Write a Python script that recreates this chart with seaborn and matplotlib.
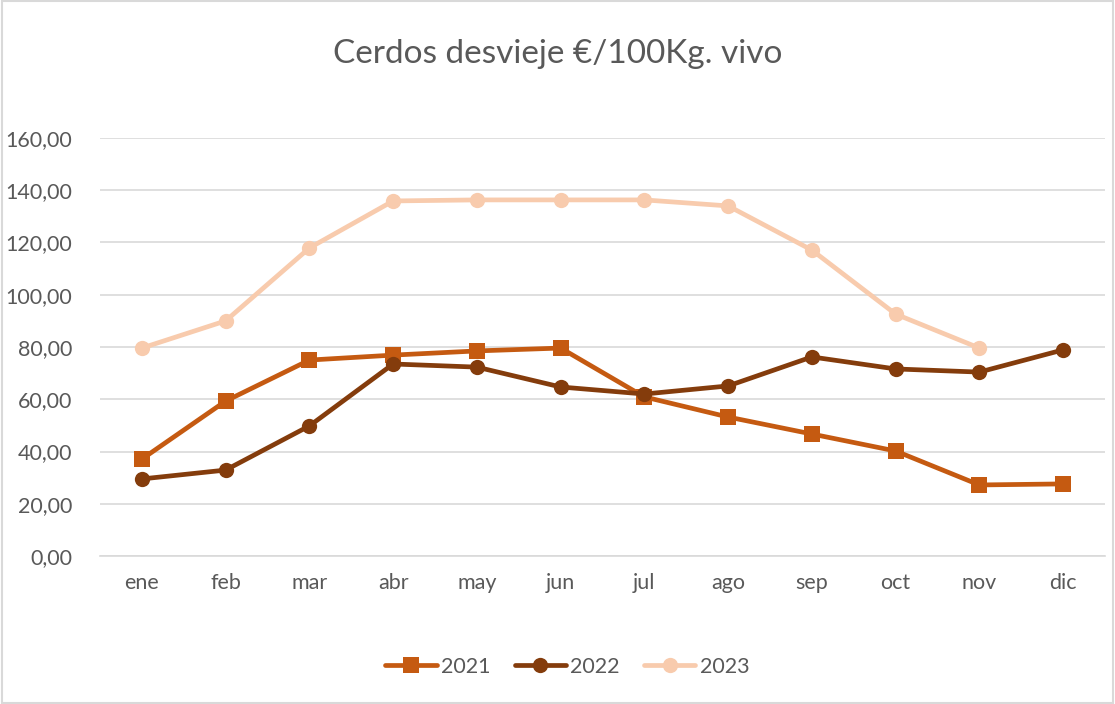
import numpy as np
import pandas as pd
import matplotlib.pyplot as plt
import seaborn as sns
from matplotlib.patches import Rectangle

# datos
meses = ["ene", "feb", "mar", "abr", "may", "jun", "jul", "ago", "sep", "oct", "nov", "dic"]
v2021 = [37.1, 59.3, 75.0, 76.9, 78.5, 79.6, 60.9, 53.2, 46.7, 40.2, 27.2, 27.6]
v2022 = [29.5, 32.9, 49.8, 73.5, 72.3, 64.7, 62.0, 65.1, 76.2, 71.6, 70.4, 78.9]
v2023 = [79.6, 90.0, 117.9, 135.9, 136.3, 136.3, 136.3, 134.0, 117.1, 92.6, 79.6, np.nan]
yticks = [0, 20, 40, 60, 80, 100, 120, 140, 160]

df = pd.DataFrame({"mes": meses * 3,
                   "pos": list(range(12)) * 3,
                   "valor": v2021 + v2022 + v2023,
                   "anio": ["2021"] * 12 + ["2022"] * 12 + ["2023"] * 12})

sns.set_style("white")
plt.rcParams['font.family'] = ['Lato', 'DejaVu Sans']

colores = {"2021": "#C55A11", "2022": "#843C0C", "2023": "#F8CBAD"}
marcas = {"2021": "s", "2022": "o", "2023": "o"}

fig = plt.figure(figsize=(11.15, 7.04), dpi=100)
ax = fig.add_axes([0.0897, 0.2102, 0.9013, 0.5938])

for anio in ["2021", "2022", "2023"]:
    d = df[df["anio"] == anio]
    sns.lineplot(data=d, x="pos", y="valor", ax=ax, color=colores[anio], marker=marcas[anio],
                 markersize=11, markeredgewidth=0, linewidth=3.4, label=anio, estimator=None)

ax.set_xlim(-0.5, 11.5)
ax.set_ylim(0, 160)
ax.set_yticks(yticks)
ax.set_yticklabels([f"{t:.2f}".replace(".", ",") for t in yticks], fontsize=15.5, color="#595959")
ax.set_xticks(range(12))
ax.set_xticklabels(meses, fontsize=15.5, color="#595959")
ax.tick_params(axis="x", length=0, pad=12)
ax.tick_params(axis="y", length=0, pad=20)
ax.grid(axis="y", color="#D9D9D9", linewidth=1.2)
ax.set_axisbelow(True)
ax.set_xlabel("")
ax.set_ylabel("")
sns.despine(ax=ax, left=True, bottom=False)
ax.spines["bottom"].set_color("#D9D9D9")
ax.spines["bottom"].set_linewidth(1.2)

fig.suptitle("Cerdos desvieje €/100Kg. vivo", fontsize=24, color="#595959", y=0.945)

ax.legend(loc="center", bbox_to_anchor=(0.465, -0.265), ncol=3, frameon=False, fontsize=15.5,
          labelcolor="#595959", handlelength=2.4, columnspacing=1.1, handletextpad=0.2)

fig.patches.append(Rectangle((0.002, 0.002), 0.996, 0.996, transform=fig.transFigure,
                             fill=False, edgecolor="#D9D9D9", linewidth=1.5))

plt.savefig("out.png", dpi=100)
